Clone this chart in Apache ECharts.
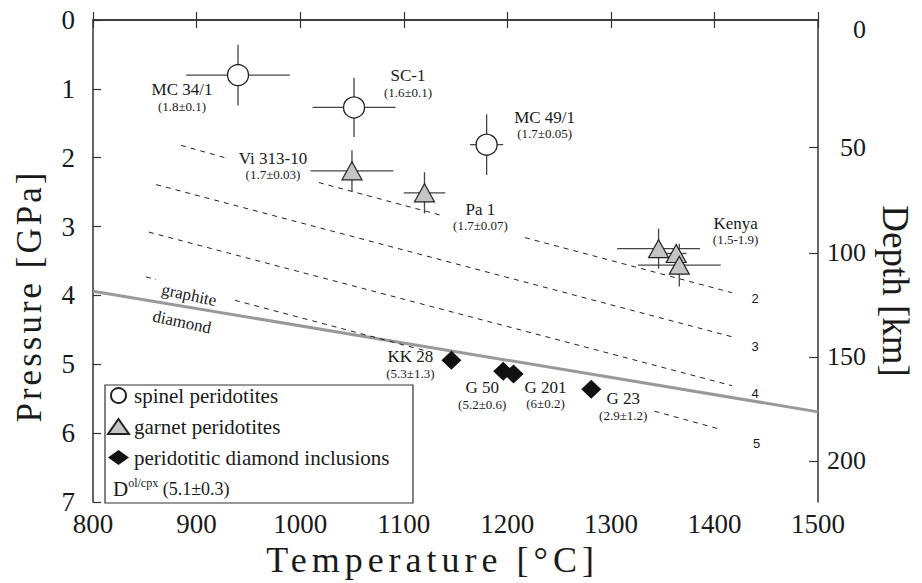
<!DOCTYPE html>
<html>
<head>
<meta charset="utf-8">
<script src="https://cdn.jsdelivr.net/npm/echarts@6.0.0/dist/echarts.min.js"></script>
<style>
  html, body { margin: 0; background: #fff; }
  #chart { width: 922px; height: 583px; }
  /* the axis titles in the original are letter-spaced */
  #chart text[style*="36px"] { letter-spacing: 5px; }
  #chart text[style*="35px"] { letter-spacing: 3px; }
</style>
</head>
<body>
<div id="chart"></div>
<script>
// axes
const temperatureTicks = [800, 900, 1000, 1100, 1200, 1300, 1400, 1500];
const pressureTicks = [0, 1, 2, 3, 4, 5, 6, 7];
const depthKm = [0, 50, 100, 150, 200];
const depthAtGPa = [0.14, 1.85, 3.38, 4.89, 6.40]; // where each depth label sits on the pressure scale

// spinel peridotites [T, P], errors [dT, dP]
const spinel = [[940, 0.80], [1052, 1.27], [1180, 1.81]];
const spinelErr = [[50, 0.44], [40, 0.43], [16, 0.44]];
const spinelNames = ['MC 34/1', 'SC-1', 'MC 49/1'];
const spinelD = ['(1.8±0.1)', '(1.6±0.1)', '(1.7±0.05)'];

// garnet peridotites
const garnet = [[1050, 2.19], [1120, 2.51], [1346, 3.32], [1363, 3.39], [1366, 3.56]];
const garnetErr = [[40, 0.30], [20, 0.30], [40, 0.29], [10, 0], [40, 0.31]];
const garnetNames = ['Vi 313-10', 'Pa 1', 'Kenya', '', ''];
const garnetD = ['(1.7±0.03)', '(1.7±0.07)', '(1.5-1.9)', '', ''];

// peridotitic diamond inclusions
const inclusions = [[1146, 4.94], [1196, 5.10], [1206, 5.14], [1281, 5.36]];
const inclusionNames = ['KK 28', 'G 50', 'G 201', 'G 23'];
const inclusionD = ['(5.3±1.3)', '(5.2±0.6)', '(6±0.2)', '(2.9±1.2)'];

// graphite / diamond boundary and D(ol/cpx) isopleths (gaps where the text sits)
const graphiteDiamond = [[800, 3.94], [1500, 5.69]];
const iso2 = [[885, 1.82], [930, 2.01], ['-', '-'], [1018, 2.36], [1137, 2.84], ['-', '-'], [1217, 3.16], [1417, 3.96]];
const iso3 = [[861, 2.39], [1417, 4.60]];
const iso4 = [[854, 3.08], [1417, 5.31]];
const iso5 = [[851, 3.73], [861, 3.77], ['-', '-'], [937, 4.07], [1123, 4.81], ['-', '-'], [1342, 5.68], [1405, 5.94]];
const isoLabels = ['2', '3', '4', '5'];

// label placement (pixels from the symbol / line end)
const spinelLabelOffset = [[-56, 22], [54, -24], [58, -20]];
const garnetLabelOffset = [[-79, -5], [56, 24], [77, -18], [0, 0], [0, 0]];
const inclusionLabelOffset = [[-41, 4], [-21, 24], [32, 21], [32, 17]];
const isoLabelOffset = [[23, 6], [23, 10], [23, 8], [37, 14]];

const serif = "'Liberation Serif', 'Times New Roman', serif";
const ink = '#1a1a1a';
const axisLine = { lineStyle: { color: '#333', width: 1.5 } };
const tick = { inside: true, length: 8, lineStyle: { color: '#333', width: 1.2 } };

function pointData(points, names, ds, offsets) {
    return points.map((p, i) => ({
        value: p,
        name: names[i],
        d: ds[i],
        label: { show: names[i] !== '', offset: offsets[i] }
    }));
}

const pointLabel = {
    show: true,
    position: 'inside',
    formatter: p => '{n|' + p.data.name + '}\n{d|' + p.data.d + '}',
    rich: {
        n: { fontSize: 17, lineHeight: 18, color: ink, fontFamily: serif },
        d: { fontSize: 13, lineHeight: 15, color: ink, fontFamily: serif }
    }
};

function errorBars(points, errs) {
    return {
        type: 'custom',
        z: 2,
        silent: true,
        data: points.map((p, i) => [p[0], p[1], errs[i][0], errs[i][1]]),
        encode: { x: 0, y: 1 },
        renderItem: (params, api) => {
            const x = api.value(0), y = api.value(1), dx = api.value(2), dy = api.value(3);
            const l = api.coord([x - dx, y]), r = api.coord([x + dx, y]);
            const t = api.coord([x, y - dy]), b = api.coord([x, y + dy]);
            const st = { stroke: '#444', lineWidth: 1.3 };
            return {
                type: 'group',
                children: [
                    { type: 'line', shape: { x1: l[0], y1: l[1], x2: r[0], y2: r[1] }, style: st },
                    { type: 'line', shape: { x1: t[0], y1: t[1], x2: b[0], y2: b[1] }, style: st }
                ]
            };
        }
    };
}

function isopleth(data, label, offset) {
    return {
        type: 'line',
        data: data,
        symbol: 'none',
        silent: true,
        z: 1,
        lineStyle: { color: '#222', width: 1, type: [5, 5] },
        markPoint: {
            symbol: 'circle',
            symbolSize: 0,
            silent: true,
            data: [{ coord: data[data.length - 1] }],
            label: {
                show: true,
                position: 'inside',
                formatter: label,
                offset: offset,
                fontFamily: 'Liberation Sans',
                fontSize: 13,
                color: ink
            }
        }
    };
}

const option = {
    animation: false,
    backgroundColor: '#fff',
    textStyle: { fontFamily: serif },
    grid: { left: 93, right: 93, top: 20, bottom: 72 },
    legend: {
        orient: 'vertical',
        left: 102,
        top: 380,
        itemWidth: 21,
        itemHeight: 15,
        itemGap: 10,
        selectedMode: false,
        textStyle: { fontSize: 21, fontFamily: serif, color: ink },
        data: ['spinel peridotites', 'garnet peridotites', 'peridotitic diamond inclusions']
    },
    xAxis: [
        {
            type: 'value',
            position: 'bottom',
            min: temperatureTicks[0],
            max: temperatureTicks[temperatureTicks.length - 1],
            interval: 100,
            axisLine: axisLine,
            axisTick: tick,
            axisLabel: { fontSize: 27, color: ink, margin: 8, fontFamily: serif, formatter: v => String(v) },
            splitLine: { show: false },
            name: 'Temperature [°C]',
            nameLocation: 'middle',
            nameGap: 34,
            nameTextStyle: { fontSize: 36, color: ink, fontFamily: serif, padding: [0, 46, 0, 0] }
        },
        {
            type: 'value',
            position: 'top',
            min: temperatureTicks[0],
            max: temperatureTicks[temperatureTicks.length - 1],
            interval: 100,
            axisLine: axisLine,
            axisTick: tick,
            axisLabel: { show: false },
            splitLine: { show: false }
        }
    ],
    yAxis: [
        {
            type: 'value',
            position: 'left',
            inverse: true,
            min: pressureTicks[0],
            max: pressureTicks[pressureTicks.length - 1],
            interval: 1,
            axisLine: axisLine,
            axisTick: tick,
            axisLabel: { fontSize: 27, color: ink, margin: 18, fontFamily: serif },
            splitLine: { show: false },
            name: 'Pressure [GPa]',
            nameLocation: 'middle',
            nameRotate: 90,
            nameGap: 46,
            nameTextStyle: { fontSize: 35, color: ink, fontFamily: serif, padding: [0, 70, 0, 0] }
        },
        {
            type: 'value',
            position: 'right',
            inverse: true,
            min: pressureTicks[0],
            max: pressureTicks[pressureTicks.length - 1],
            axisLine: axisLine,
            axisTick: { inside: true, length: 9, lineStyle: { color: '#333', width: 1.2 }, customValues: depthAtGPa.slice(1) },
            axisLabel: {
                customValues: depthAtGPa,
                formatter: v => {
                    const i = depthAtGPa.findIndex(p => Math.abs(p - v) < 1e-6);
                    return i < 0 ? '' : String(depthKm[i]);
                },
                fontSize: 26, color: ink, margin: 48, align: 'right', fontFamily: serif
            },
            splitLine: { show: false },
            name: 'Depth [km]',
            nameLocation: 'middle',
            nameRotate: -90,
            nameGap: 53,
            nameTextStyle: { fontSize: 37, color: ink, fontFamily: serif, padding: [0, 0, 0, 60] }
        }
    ],
    graphic: [
        {
            type: 'rect',
            shape: { x: 105, y: 385, width: 308, height: 118 },
            style: { fill: 'none', stroke: '#333', lineWidth: 1.2 },
            z: 10
        },
        {
            type: 'text',
            x: 113, y: 489,
            z: 10,
            style: {
                text: '{D|D}{s|ol/cpx}{v| (5.1±0.3)}',
                verticalAlign: 'middle',
                rich: {
                    D: { fontSize: 21, fontFamily: serif, fill: ink, lineHeight: 24 },
                    s: { fontSize: 12, fontFamily: serif, fill: ink, verticalAlign: 'top' },
                    v: { fontSize: 18, fontFamily: serif, fill: ink, lineHeight: 24 }
                }
            }
        },
        {
            type: 'text',
            x: 189, y: 295,
            rotation: -12 * Math.PI / 180,
            z: 10,
            style: { text: 'graphite', fontSize: 17, fontFamily: serif, fill: ink, align: 'center', verticalAlign: 'middle' }
        },
        {
            type: 'text',
            x: 182, y: 322,
            rotation: -12 * Math.PI / 180,
            z: 10,
            style: { text: 'diamond', fontSize: 17, fontFamily: serif, fill: ink, align: 'center', verticalAlign: 'middle' }
        }
    ],
    series: [
        {
            type: 'line',
            data: graphiteDiamond,
            symbol: 'none',
            silent: true,
            z: 1,
            lineStyle: { color: '#999', width: 3 }
        },
        isopleth(iso2, isoLabels[0], isoLabelOffset[0]),
        isopleth(iso3, isoLabels[1], isoLabelOffset[1]),
        isopleth(iso4, isoLabels[2], isoLabelOffset[2]),
        isopleth(iso5, isoLabels[3], isoLabelOffset[3]),
        errorBars(spinel, spinelErr),
        errorBars(garnet, garnetErr),
        {
            name: 'spinel peridotites',
            type: 'scatter',
            z: 3,
            symbol: 'circle',
            symbolSize: 21,
            itemStyle: { color: '#fff', borderColor: '#222', borderWidth: 1.3, opacity: 1 },
            label: pointLabel,
            data: pointData(spinel, spinelNames, spinelD, spinelLabelOffset)
        },
        {
            name: 'garnet peridotites',
            type: 'scatter',
            z: 3,
            symbol: 'triangle',
            symbolSize: [20, 18],
            itemStyle: { color: '#c4c4c4', borderColor: '#222', borderWidth: 1.2, opacity: 1 },
            label: pointLabel,
            data: pointData(garnet, garnetNames, garnetD, garnetLabelOffset)
        },
        {
            name: 'peridotitic diamond inclusions',
            type: 'scatter',
            z: 3,
            symbol: 'diamond',
            symbolSize: [20, 19],
            itemStyle: { color: '#111', opacity: 1 },
            label: pointLabel,
            data: pointData(inclusions, inclusionNames, inclusionD, inclusionLabelOffset)
        }
    ]
};

const chart = echarts.init(document.getElementById('chart'), null, { renderer: 'svg' });
chart.setOption(option);
</script>
</body>
</html>
